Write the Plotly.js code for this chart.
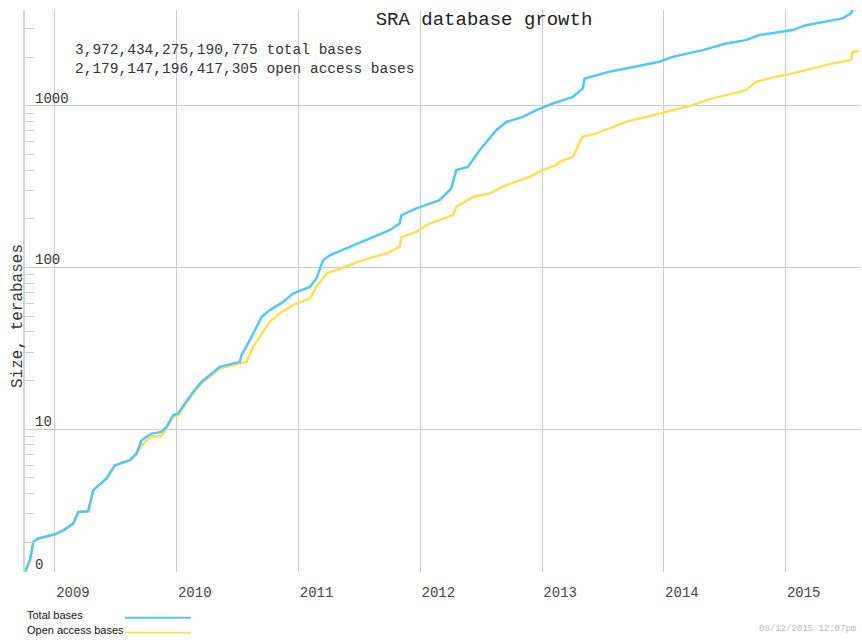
<!DOCTYPE html>
<html>
<head>
<meta charset="utf-8">
<script src="https://cdn.plot.ly/plotly-3.0.1.min.js"></script>
<style>
html,body{margin:0;padding:0;background:#fff;}
#chart{width:862px;height:640px;}
</style>
</head>
<body>
<div id="chart"></div>
<script>
// Decimal year of each sample and size in terabases
const totalYears = [2008.754,2008.795,2008.822,2008.863,2009.000,2009.068,2009.150,2009.191,2009.273,2009.314,
  2009.424,2009.492,2009.615,2009.670,2009.711,2009.793,2009.875,2009.916,2009.970,2010.011,
  2010.066,2010.135,2010.203,2010.354,2010.518,2010.532,2010.600,2010.655,2010.696,2010.764,
  2010.873,2010.955,2011.092,2011.147,2011.201,2011.256,2011.447,2011.584,2011.748,2011.830,
  2011.844,2011.967,2012.076,2012.158,2012.254,2012.295,2012.391,2012.487,2012.623,2012.706,
  2012.842,2012.952,2013.088,2013.252,2013.334,2013.348,2013.553,2013.826,2013.963,2014.072,
  2014.318,2014.510,2014.674,2014.783,2015.057,2015.166,2015.467,2015.536,2015.549,2015.604];
const totalTB = [1.31,1.55,2.01,2.11,2.24,2.37,2.61,3.08,3.11,4.20,
  4.96,5.99,6.43,7.08,8.55,9.40,9.62,10.33,12.2,12.5,
  14.4,17.0,19.6,24.3,26.1,28.7,35.5,43.0,49.4,54.5,
  61.3,69.0,75.9,85.5,111,119,137,151,170,187,
  210,232,249,261,308,400,419,531,706,794,
  853,940,1033,1135,1279,1475,1622,1782,1870,2006,
  2207,2427,2546,2735,2937,3149,3467,3724,3954,3972];

const openYears = [2008.754,2008.795,2008.822,2008.863,2009.000,2009.068,2009.150,2009.191,2009.273,2009.314,
  2009.424,2009.492,2009.615,2009.670,2009.711,2009.793,2009.875,2009.916,2009.970,2010.011,
  2010.066,2010.135,2010.203,2010.354,2010.573,2010.627,2010.709,2010.764,2010.846,2010.955,
  2011.092,2011.147,2011.229,2011.338,2011.529,2011.721,2011.830,2011.844,2011.967,2012.076,
  2012.268,2012.295,2012.432,2012.568,2012.706,2012.897,2013.006,2013.116,2013.143,2013.252,
  2013.280,2013.321,2013.334,2013.444,2013.553,2013.690,2013.854,2014.072,2014.236,2014.346,
  2014.510,2014.674,2014.756,2014.920,2015.057,2015.221,2015.385,2015.536,2015.549,2015.604];
const openTB = [1.31,1.55,2.01,2.11,2.24,2.37,2.61,3.08,3.11,4.20,
  4.96,5.99,6.43,7.08,7.96,9.05,9.05,10.1,11.9,12.2,
  14.1,16.7,19.2,23.8,26.1,32.3,40.0,46.1,52.0,58.5,
  64.3,75.9,91.8,98.6,111,122,134,154,166,187,
  210,237,273,287,323,363,400,429,450,483,
  531,628,643,675,725,795,853,940,1009,1084,
  1164,1249,1406,1510,1585,1702,1828,1915,2153,2179];

const yearTicks = [2009,2010,2011,2012,2013,2014,2015];
const yearLabels = ['2009','2010','2011','2012','2013','2014','2015'];
const sizeTicks = [1.31,10,100,1000];
const sizeLabels = ['0','10','100','1000'];
const minorSizeTicks = [2,3,4,5,6,7,8,9,20,30,40,50,60,70,80,90,200,300,400,500,600,700,800,900,2000,3000];
const seriesNames = ['Total bases','Open access bases'];
const summaryLines = ['3,972,434,275,190,775 total bases','2,179,147,196,417,305 open access bases'];
const chartTitle = 'SRA database growth';
const yTitle = 'Size, terabases';
const stamp = '08/12/2015 12:07pm';

const BLUE = 'rgb(80,200,245)';
const YELLOW = 'rgb(255,222,80)';
const MONO = 'Liberation Mono, Courier New, monospace';

const traces = [
  {x: openYears, y: openTB, type: 'scatter', mode: 'lines', name: seriesNames[1],
   line: {color: YELLOW, width: 2.5}, showlegend: false, hoverinfo: 'skip'},
  {x: totalYears, y: totalTB, type: 'scatter', mode: 'lines', name: seriesNames[0],
   line: {color: BLUE, width: 2.5}, showlegend: false, hoverinfo: 'skip'}
];

const annotations = [
  {text: summaryLines.join('<br>'), xref: 'paper', yref: 'paper', x: 0.0571, y: 0.9120,
   xanchor: 'left', yanchor: 'middle', align: 'left', showarrow: false,
   font: {family: MONO, size: 14.5, color: '#333'}},
  {text: yTitle, xref: 'paper', yref: 'paper', x: -0.0084, y: 0.4555, textangle: -90,
   xanchor: 'center', yanchor: 'middle', showarrow: false,
   font: {family: MONO, size: 16, color: '#333'}},
  {text: seriesNames[0], xref: 'paper', yref: 'paper', x: 0, y: -0.0765,
   xanchor: 'left', yanchor: 'middle', showarrow: false,
   font: {family: 'Liberation Sans, Arial, sans-serif', size: 11, color: '#111'}},
  {text: seriesNames[1], xref: 'paper', yref: 'paper', x: 0, y: -0.1032,
   xanchor: 'left', yanchor: 'middle', showarrow: false,
   font: {family: 'Liberation Sans, Arial, sans-serif', size: 11, color: '#111'}},
  {text: stamp, xref: 'paper', yref: 'paper', x: 0.9976, y: -0.1014,
   xanchor: 'right', yanchor: 'middle', showarrow: false,
   font: {family: MONO, size: 9, color: '#bbbbbb'}}
];
// y tick labels drawn inside the plot, just above their gridlines
sizeTicks.forEach((v, i) => {
  annotations.push({text: sizeLabels[i], xref: 'paper', yref: 'y', x: 0.0096, y: Math.log10(v),
    xanchor: 'left', yanchor: 'bottom', yshift: -3, showarrow: false,
    font: {family: MONO, size: 14, color: '#333'}});
});

const layout = {
  width: 862, height: 640,
  margin: {l: 25, r: 2, t: 10, b: 68},
  paper_bgcolor: '#fff', plot_bgcolor: '#fff',
  title: {text: chartTitle, font: {family: MONO, size: 19, color: '#222'},
          xref: 'container', x: 0.5615, xanchor: 'center', y: 0.972, yanchor: 'middle'},
  xaxis: {
    type: 'linear', range: [2008.754, 2015.61],
    tickmode: 'array', tickvals: yearTicks, ticktext: yearLabels,
    showgrid: true, gridcolor: '#cccccc', gridwidth: 1,
    zeroline: false, showline: false, ticks: '',
    ticklabelshift: 18, ticklabelstandoff: 10,
    tickfont: {family: MONO, size: 14, color: '#444'}
  },
  yaxis: {
    type: 'log', range: [Math.log10(1.31), 3.592],
    tickmode: 'array', tickvals: sizeTicks, showticklabels: false,
    showgrid: true, gridcolor: '#cccccc', gridwidth: 1,
    zeroline: false, showline: true, linecolor: '#d4d4d4', linewidth: 2,
    ticks: '',
    minor: {tickmode: 'array', tickvals: minorSizeTicks, ticks: 'inside', ticklen: 9,
            tickcolor: '#cccccc', tickwidth: 1, showgrid: false}
  },
  annotations: annotations,
  shapes: [
    {type: 'line', xref: 'paper', yref: 'paper', x0: 0.1198, x1: 0.1984, y0: -0.0813, y1: -0.0813,
     line: {color: BLUE, width: 2}},
    {type: 'line', xref: 'paper', yref: 'paper', x0: 0.1198, x1: 0.1984, y0: -0.108, y1: -0.108,
     line: {color: YELLOW, width: 2}}
  ]
};

Plotly.newPlot('chart', traces, layout, {displayModeBar: false, staticPlot: true});
</script>
</body>
</html>
